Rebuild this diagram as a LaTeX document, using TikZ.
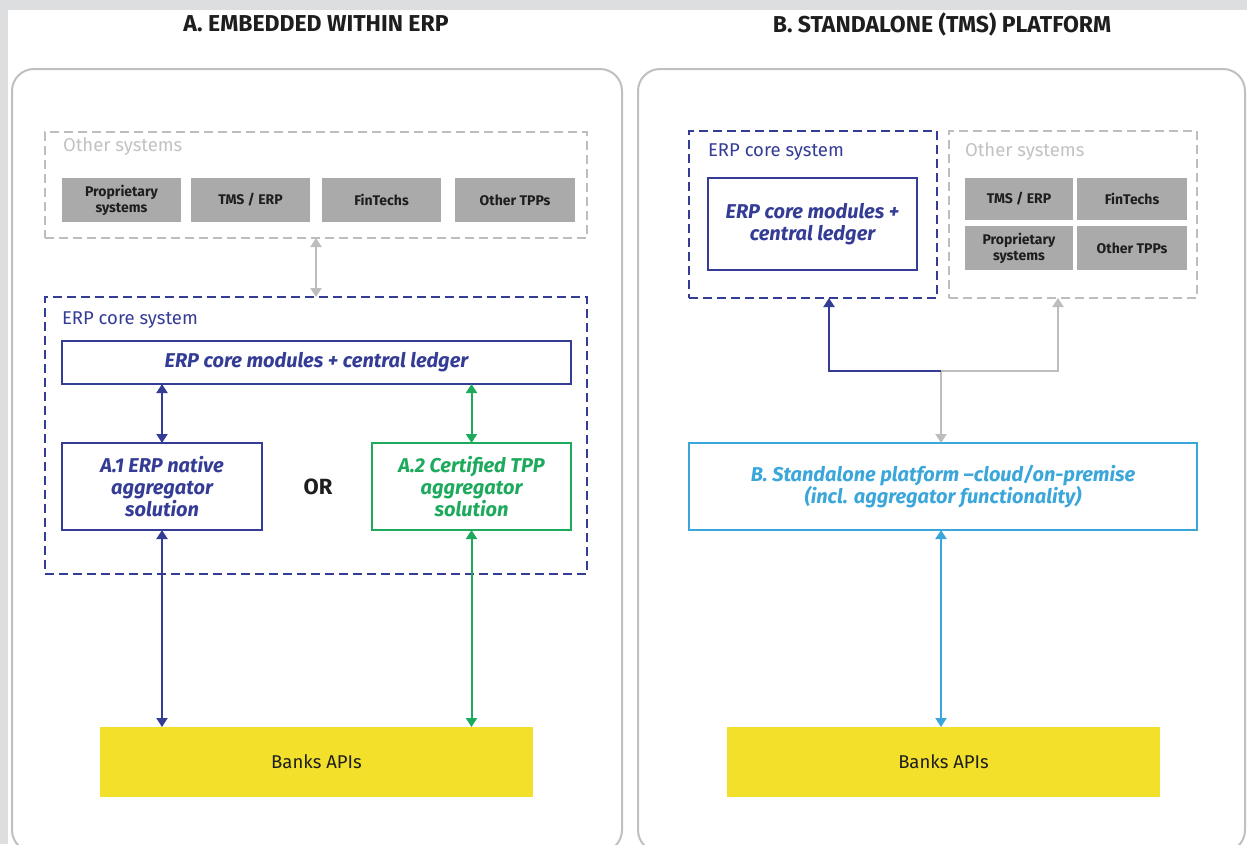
\documentclass[tikz,border=0pt]{standalone}
\usepackage{fontspec}
\setmainfont{Fira Sans}
\usetikzlibrary{arrows.meta}

\definecolor{indigo}{HTML}{343C96}
\definecolor{leaf}{HTML}{1DAA5C}
\definecolor{sky}{HTML}{3AA6DA}
\definecolor{banana}{HTML}{F3E02A}
\definecolor{boxgray}{HTML}{AAAAAA}
\definecolor{dashgray}{HTML}{BDBDBD}
\definecolor{labelgray}{HTML}{C2C2C2}
\definecolor{panelgray}{HTML}{C0C0C0}
\definecolor{pagegray}{HTML}{DDDEE0}
\definecolor{ink}{HTML}{1E1E1E}

\tikzset{
  sz/.style 2 args={minimum width=#1, minimum height=#2},
  base/.style={inner sep=0pt, outer sep=0pt, align=center},
  title/.style={base, text=ink, font=\fontsize{23}{26}\selectfont\bfseries},
  grayframe/.style={base, draw=dashgray, line width=2pt, dash pattern=on 9pt off 5pt},
  blueframe/.style={base, draw=indigo, line width=2pt, dash pattern=on 9pt off 5pt},
  graylabel/.style={base, text=labelgray, font=\fontsize{18.5}{21}\selectfont},
  bluelabel/.style={base, text=indigo, font=\fontsize{18.5}{21}\selectfont},
  graybox/.style={base, fill=boxgray, text=ink, font=\fontsize{14}{16}\selectfont\bfseries},
  bluebox/.style={base, draw=indigo, line width=2pt, fill=white, text=indigo,
    font=\fontsize{20}{22}\selectfont\bfseries\itshape},
  greenbox/.style={base, draw=leaf, line width=2pt, fill=white, text=leaf,
    font=\fontsize{20}{22}\selectfont\bfseries\itshape},
  skybox/.style={base, draw=sky, line width=2pt, fill=white, text=sky,
    font=\fontsize{20}{22}\selectfont\bfseries\itshape},
  bank/.style={base, fill=banana, text=ink, font=\fontsize{18.5}{21}\selectfont},
  ortext/.style={base, text=ink, font=\fontsize{22}{24}\selectfont\bfseries},
  tip/.tip={Triangle[width=11pt,length=9pt]},
  link/.style={line width=2pt, tip-tip},
  onelink/.style={line width=2pt, -tip},
  panel/.style={draw=panelgray, line width=2pt, rounded corners=22pt}
}

\begin{document}
\begin{tikzpicture}[x=1pt,y=-1pt]
\useasboundingbox (0,0) rectangle (1247,844);
\fill[pagegray] (0,0) rectangle (1247,844);
\fill[white] (8,10) rectangle (1247,844);

% panels
\draw[panel] (12,69) rectangle (622,852);
\draw[panel] (638,69) rectangle (1245,852);

% titles
\node[title] (titleA) at (316,24) {A. EMBEDDED WITHIN ERP};
\node[title] (titleB) at (942,24) {B. STANDALONE (TMS) PLATFORM};

% ---------- A: embedded within ERP ----------
\node[grayframe, sz={542}{106}] (lother) at (316,185) {};
\node[graylabel, anchor=west] (lotherlbl) at (63,147) {Other systems};
\node[graybox, sz={119}{44}] (lprop) at (121.5,200) {Proprietary\\systems};
\node[graybox, sz={119}{44}] (ltms) at (250.5,200) {TMS / ERP};
\node[graybox, sz={119}{44}] (lfin) at (381.5,200) {FinTechs};
\node[graybox, sz={120}{44}] (ltpp) at (515,200) {Other TPPs};

\node[blueframe, sz={542}{277}] (lerp) at (316,435.5) {};
\node[bluelabel, anchor=west] (lerplbl) at (62,320) {ERP core system};
\node[bluebox, sz={509}{43}] (lcore) at (316.5,362.5) {ERP core modules + central ledger};
\node[bluebox, sz={200}{87}] (la1) at (162,486.5) {A.1 ERP native\\aggregator\\solution};
\node[greenbox, sz={199}{87}] (la2) at (471.5,486.5) {A.2 Certified TPP\\aggregator\\solution};
\node[ortext] (lor) at (318,487) {OR};

\node[bank, sz={433}{70}] (lbank) at (316.5,762) {Banks APIs};

\draw[link, dashgray] (lother.south) -- (lerp.north);
\draw[link, indigo] (la1.north |- lcore.south) -- (la1.north);
\draw[link, leaf] (la2.north |- lcore.south) -- (la2.north);
\draw[link, indigo] (la1.south) -- (la1.south |- lbank.north);
\draw[link, leaf] (la2.south) -- (la2.south |- lbank.north);

% ---------- B: standalone platform ----------
\node[blueframe, sz={248}{167}] (rerp) at (813,214.5) {};
\node[bluelabel, anchor=west] (rerplbl) at (708,152) {ERP core system};
\node[bluebox, sz={209}{92}] (rcore) at (812.5,224) {ERP core modules +\\central ledger};

\node[grayframe, sz={248}{167}] (rother) at (1073,214.5) {};
\node[graylabel, anchor=west] (rotherlbl) at (965,152) {Other systems};
\node[graybox, sz={108}{42}] (rtms) at (1019,199) {TMS / ERP};
\node[graybox, sz={110}{42}] (rfin) at (1132,199) {FinTechs};
\node[graybox, sz={108}{44}] (rprop) at (1019,248) {Proprietary\\systems};
\node[graybox, sz={110}{44}] (rtpp) at (1132,248) {Other TPPs};

\node[skybox, sz={508}{87}] (rplat) at (943,486.5)
  {B. Standalone platform –cloud/on-premise\\(incl. aggregator functionality)};
\node[bank, sz={433}{70}] (rbank) at (943.5,762) {Banks APIs};

\coordinate (rjoin) at (941,371);
\draw[onelink, dashgray] (rjoin) -- (rjoin |- rplat.north);
\draw[onelink, dashgray] (rjoin) -| ([xshift=-15pt]rother.south);
\draw[onelink, indigo] (rjoin) -| ([xshift=16pt]rerp.south);
\draw[link, sky] (rjoin |- rplat.south) -- (rjoin |- rbank.north);
\end{tikzpicture}
\end{document}
